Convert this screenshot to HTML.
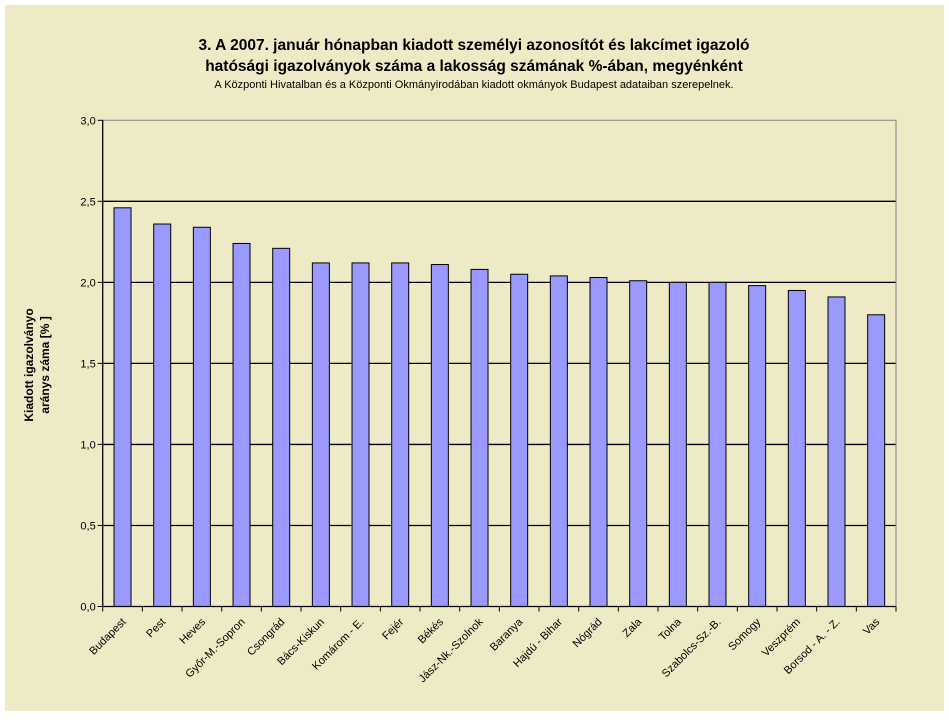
<!DOCTYPE html>
<html><head><meta charset="utf-8"><style>
body{margin:0;background:#fff;width:949px;height:715px;overflow:hidden;font-family:"Liberation Sans",Arial,sans-serif}
</style></head><body>
<svg width="949" height="715" xmlns="http://www.w3.org/2000/svg" font-family="Liberation Sans, Arial, sans-serif">
<rect x="5" y="5" width="939" height="706" fill="#EEEAC6"/>
<text x="474" y="50" text-anchor="middle" font-size="15.5" font-weight="bold">3. A 2007. január hónapban kiadott személyi azonosítót és lakcímet igazoló</text>
<text x="474" y="71" text-anchor="middle" font-size="15.5" font-weight="bold">hatósági igazolványok száma a lakosság  számának %-ában, megyénként</text>
<text x="474" y="88" text-anchor="middle" font-size="11">A Központi Hivatalban és a Központi Okmányirodában kiadott okmányok Budapest adataiban szerepelnek.</text>
<g transform="translate(33,365) rotate(-90)">
<text x="0" y="0" text-anchor="middle" font-size="12" font-weight="bold">Kiadott igazolványo</text>
<text x="0" y="16" text-anchor="middle" font-size="12" font-weight="bold">aránys záma [% ]</text>
</g>
<g id="plot"></g>
</svg>
<script>
const categories=["Budapest","Pest","Heves","Győr-M.-Sopron","Csongrád","Bács-Kiskun","Komárom - E.","Fejér","Békés","Jász-Nk.-Szolnok","Baranya","Hajdú - Bihar","Nógrád","Zala","Tolna","Szabolcs-Sz.-B.","Somogy","Veszprém","Borsod - A. - Z.","Vas"];
const values=[2.46,2.36,2.34,2.24,2.21,2.12,2.12,2.12,2.11,2.08,2.05,2.04,2.03,2.01,2.00,2.00,1.98,1.95,1.91,1.80];
const yTicks=[0,0.5,1.0,1.5,2.0,2.5,3.0];
const yTickLabels=["0,0","0,5","1,0","1,5","2,0","2,5","3,0"];
const NS="http://www.w3.org/2000/svg";
const g=document.getElementById('plot');
const X0=102.7,X1=896,Y0=606.5,Y1=120.3,ymax=3;
const n=categories.length,bw=(X1-X0)/n;
const y=v=>Y0-(v/ymax)*(Y0-Y1);
const x=i=>X0+bw*i;
function mk(t,a){const e=document.createElementNS(NS,t);for(const k in a)e.setAttribute(k,a[k]);g.appendChild(e);return e;}
yTicks.forEach((t,i)=>{
  if(t>0&&t<ymax){const l=mk('line',{x1:X0,x2:X1,y1:y(t),y2:y(t),stroke:'#000','stroke-width':1.3});
  
  }
  const tk=mk('line',{x1:X0-5,x2:X0,y1:y(t),y2:y(t),stroke:'#000'});
  
  
  const tx=mk('text',{x:X0-7,y:y(t)+4,'text-anchor':'end','font-size':11});
  tx.textContent=yTickLabels[i];
  
  
});
const fr=mk('polyline',{points:`${X0},${Y1} ${X1},${Y1} ${X1},${Y0}`,fill:'none',stroke:'#808080','stroke-width':1});


values.forEach((v,i)=>{
  const cx=x(i)+bw/2;
  const r=mk('rect',{x:cx-8.5,y:y(v),width:17,height:Y0-y(v),fill:'#9999FF',stroke:'#000','stroke-width':1});
  
  
  const tk=mk('line',{x1:x(i+1),x2:x(i+1),y1:Y0,y2:Y0+5,stroke:'#000'});
  
  
  const t=mk('text',{transform:`translate(${cx+4},${Y0+16}) rotate(-45)`,'text-anchor':'end','font-size':11});
  t.textContent=categories[i];
  
  
});
const t0=mk('line',{x1:X0,x2:X0,y1:Y0,y2:Y0+5,stroke:'#000'});


const ya=mk('line',{x1:X0,x2:X0,y1:Y1,y2:Y0,stroke:'#000','stroke-width':1.3});


const xa=mk('line',{x1:X0,x2:X1,y1:Y0,y2:Y0,stroke:'#000','stroke-width':1.3});


</script>
</body></html>
